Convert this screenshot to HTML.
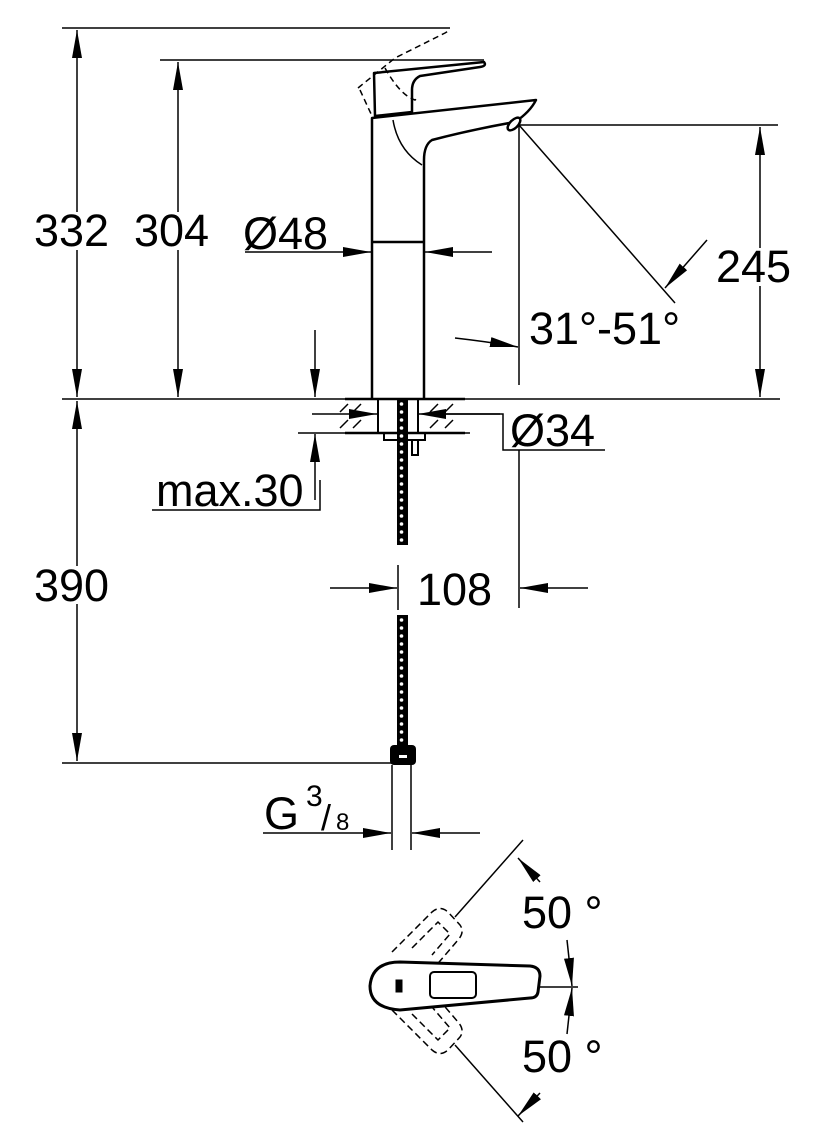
<!DOCTYPE html>
<html><head><meta charset="utf-8"><style>
html,body{margin:0;padding:0;background:#fff}
svg{display:block}
text{font-family:"Liberation Sans",sans-serif;fill:#000}
</style></head><body>
<svg width="819" height="1145" viewBox="0 0 819 1145" xmlns="http://www.w3.org/2000/svg">
<defs>
<marker id="a" viewBox="0 0 28 10" refX="28" refY="5" markerWidth="28" markerHeight="10" markerUnits="userSpaceOnUse" orient="auto-start-reverse"><path d="M0,0L28,5L0,10z" fill="#000"/></marker>
<pattern id="hose" width="11" height="8" patternUnits="userSpaceOnUse"><rect width="11" height="8" fill="#000"/><circle cx="5.5" cy="4" r="1.8" fill="#fff"/></pattern>
</defs>
<g stroke="#000" fill="none" stroke-width="1.5">
<line x1="62" y1="28" x2="450" y2="28"/>
<line x1="160" y1="60" x2="484" y2="60"/>
<line x1="520" y1="125" x2="778" y2="125"/>
<line x1="62" y1="399" x2="780" y2="399"/>
<line x1="62" y1="763" x2="392" y2="763"/>
<line x1="77" y1="30" x2="77" y2="397" marker-start="url(#a)" marker-end="url(#a)"/>
<line x1="178" y1="62" x2="178" y2="397" marker-start="url(#a)" marker-end="url(#a)"/>
<line x1="760" y1="127" x2="760" y2="397" marker-start="url(#a)" marker-end="url(#a)"/>
<line x1="77" y1="401" x2="77" y2="761" marker-start="url(#a)" marker-end="url(#a)"/>
<line x1="519" y1="125" x2="519" y2="385"/>
<line x1="519" y1="125" x2="675" y2="303"/>
<path d="M707,240 L665,288" marker-end="url(#a)"/>
<path d="M455,338 Q490,342 518,347" marker-end="url(#a)"/>
<line x1="245" y1="252" x2="371" y2="252" marker-end="url(#a)"/>
<line x1="492" y1="252" x2="425" y2="252" marker-end="url(#a)"/>
<line x1="315" y1="330" x2="315" y2="397" marker-end="url(#a)"/>
<line x1="315" y1="500" x2="315" y2="434" marker-end="url(#a)"/>
<line x1="298" y1="433" x2="470" y2="433"/>
<polyline points="152,510 320,510 320,480"/>
<line x1="312" y1="414" x2="377" y2="414" marker-end="url(#a)"/>
<line x1="500" y1="414" x2="418" y2="414" marker-end="url(#a)"/>
<polyline points="440,414 503,414 503,450 605,450"/>
<line x1="398" y1="565" x2="398" y2="610"/>
<line x1="519" y1="450" x2="519" y2="608"/>
<line x1="330" y1="588" x2="397" y2="588" marker-end="url(#a)"/>
<line x1="588" y1="588" x2="520" y2="588" marker-end="url(#a)"/>
<line x1="263" y1="833" x2="391" y2="833" marker-end="url(#a)"/>
<line x1="480" y1="833" x2="412" y2="833" marker-end="url(#a)"/>
</g>
<g stroke="#000" fill="#fff" stroke-width="2.5" stroke-linejoin="round">
<path d="M372,398 L372,118 L536,100 Q530,112 515,122 Q470,130 432,140 Q424,145 424,160 L424,398"/>
<path d="M372,242 L424,242" />
<path d="M374,73 L484,62 Q487,66 480,67 L420,76 Q412,80 412,90 L412,112 L375,116 Z"/>
<path d="M393,120 Q398,150 422,165" fill="none" stroke-width="1.5"/>
<ellipse cx="514" cy="124" rx="4" ry="8" transform="rotate(45 514 124)"/>
</g>
<g stroke="#000" fill="none" stroke-width="1.5" stroke-dasharray="6,4">
<path d="M358,88 L395,58 L445,33 L450,30 M360,90 L372,116 M385,68 Q400,95 415,100 L418,98"/>
</g>
<g stroke="#000" stroke-width="2" fill="none">
<line x1="345" y1="399" x2="465" y2="399" stroke-width="2.5"/>
<line x1="345" y1="433" x2="465" y2="433" stroke-width="2.5"/>
<line x1="378" y1="399" x2="378" y2="433"/>
<line x1="418" y1="399" x2="418" y2="433"/>
<path d="M340,412l8,-8 M340,428l8,-8 M353,412l8,-8 M353,428l8,-8 M430,412l8,-8 M430,428l8,-8 M445,412l8,-8 M445,428l8,-8" stroke-width="1.5"/>
<path d="M384,433 L384,440 L425,440 L425,433 M412,440 L412,455 L418,455 L418,440"/>
</g>
<rect x="397" y="399" width="11" height="146" fill="url(#hose)"/>
<rect x="397" y="615" width="11" height="130" fill="url(#hose)"/>
<rect x="390" y="745" width="26" height="20" rx="4" fill="#000"/>
<rect x="399" y="755" width="8" height="3" fill="#fff"/>
<g stroke="#000" stroke-width="1.5"><line x1="392" y1="765" x2="392" y2="850"/><line x1="411" y1="765" x2="411" y2="850"/></g>
<g stroke="#000" fill="none" stroke-width="1.5">
<line x1="455" y1="917" x2="523" y2="840"/>
<line x1="455" y1="1045" x2="523" y2="1122"/>
<line x1="540" y1="987" x2="578" y2="987"/>
<line x1="540" y1="882" x2="518" y2="858" marker-end="url(#a)"/>
<line x1="540" y1="1093" x2="518" y2="1116" marker-end="url(#a)"/>
<line x1="567" y1="940" x2="572" y2="986" marker-end="url(#a)"/>
<line x1="567" y1="1034" x2="572" y2="988" marker-end="url(#a)"/>
<g stroke-dasharray="7,4">
<path d="M392,952 L432,912 Q440,905 448,912 L460,925 Q465,932 458,940 L428,975"/>
<path d="M412,948 L438,922 L450,934 L432,955"/>
<path d="M392,1010 L432,1050 Q440,1057 448,1050 L460,1037 Q465,1030 458,1022 L428,987"/>
<path d="M412,1014 L438,1040 L450,1028 L432,1007"/>
</g>
</g>
<g stroke="#000" fill="#fff">
<path d="M400,962 L530,966 Q540,967 540,976 L538,992 Q537,998 530,998 L400,1010 Q370,1008 370,986 Q372,962 400,962 Z" stroke-width="3"/>
<rect x="430" y="972" width="46" height="26" rx="4" stroke-width="2"/>
<rect x="396" y="980" width="6" height="12" fill="#000"/>
</g>
<g fill="#fff">
<rect x="34" y="212" width="78" height="38"/>
<rect x="134" y="212" width="78" height="38"/>
<rect x="34" y="566" width="78" height="38"/>
<rect x="716" y="248" width="80" height="38"/>
</g>
<g font-size="45">
<text x="34" y="246">332</text>
<text x="134" y="246">304</text>
<text x="243" y="249">Ø48</text>
<text x="716" y="282">245</text>
<text x="529" y="344">31°-51°</text>
<text x="510" y="446">Ø34</text>
<text x="156" y="506">max.30</text>
<text x="34" y="601">390</text>
<text x="417" y="605">108</text>
<text x="264" y="829">G</text>
<text x="522" y="928">50 °</text>
<text x="522" y="1072">50 °</text>
</g>
<text x="306" y="806" font-size="30">3</text>
<text x="321" y="830" font-size="36">/</text>
<text x="336" y="830" font-size="24">8</text>
</svg>
</body></html>
